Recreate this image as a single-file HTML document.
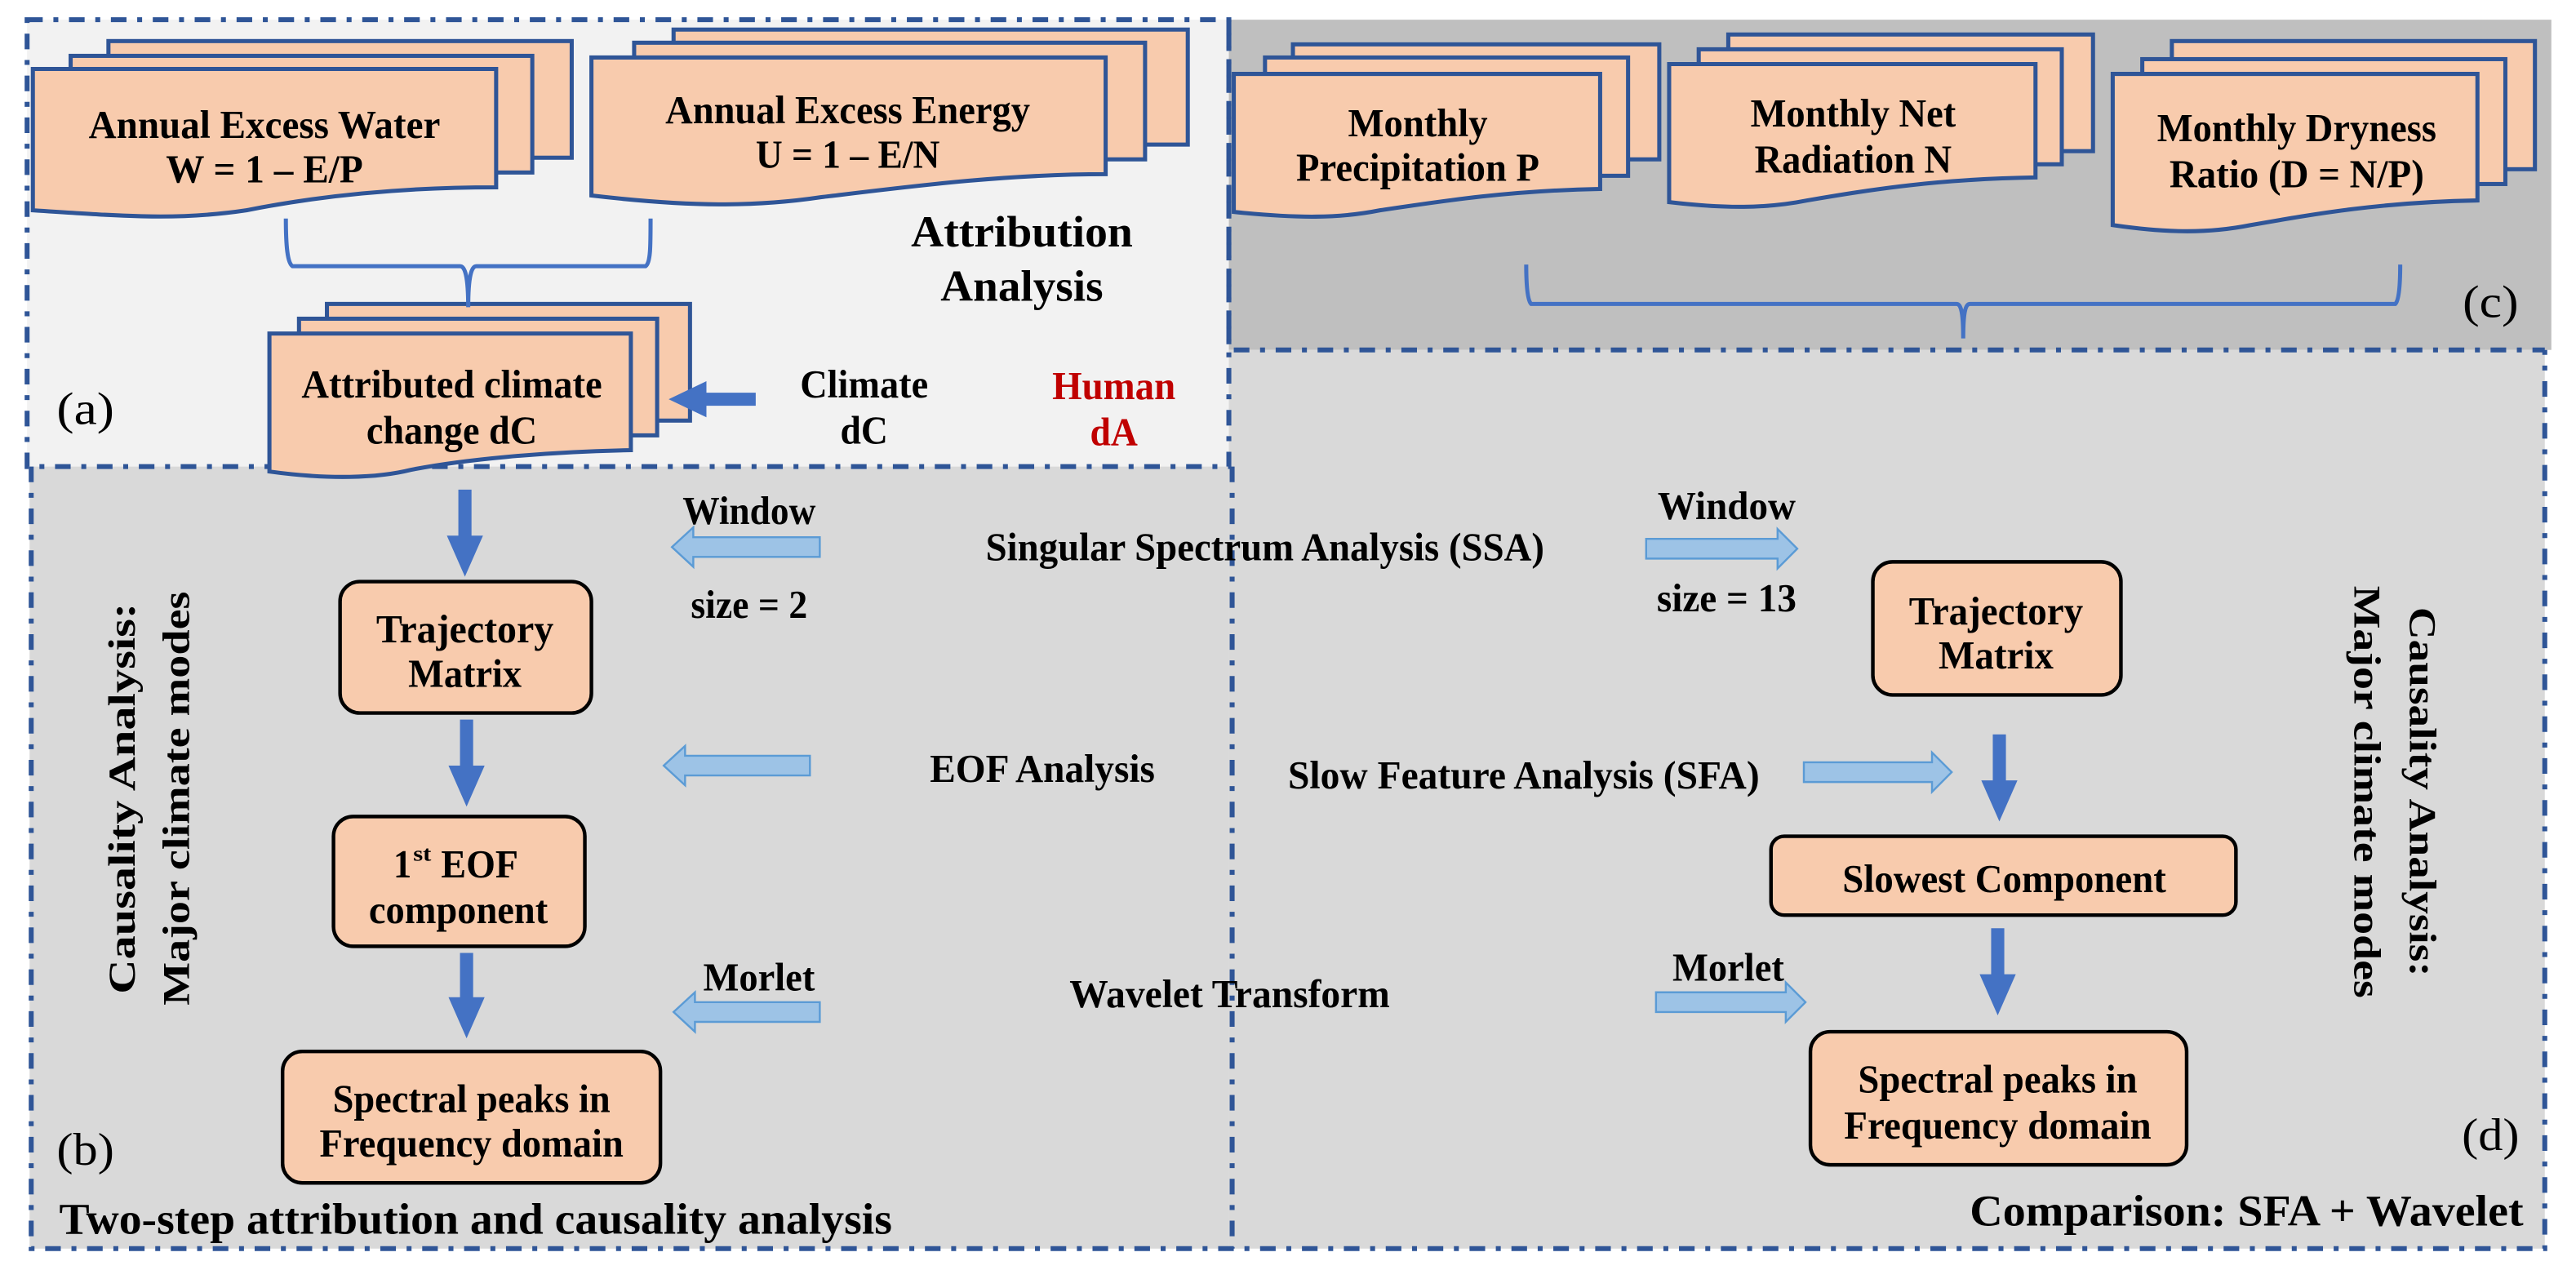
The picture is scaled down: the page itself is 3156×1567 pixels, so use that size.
<!DOCTYPE html>
<html><head><meta charset="utf-8"><style>
html,body{margin:0;padding:0;background:#fff;}
svg{display:block;}
text{font-family:"Liberation Serif","Times New Roman",serif;font-weight:bold;fill:#000;}
</style></head><body>
<svg width="3156" height="1567" viewBox="0 0 1568 778.5" preserveAspectRatio="none" xmlns="http://www.w3.org/2000/svg" font-family="Liberation Serif, serif">
<!-- panels -->
<rect x="16.5" y="12" width="731.5" height="272" fill="#f2f2f2"/>
<rect x="748" y="12" width="805" height="201" fill="#bfbfbf"/>
<rect x="18" y="284" width="730" height="476" fill="#d9d9d9"/>
<rect x="748" y="213" width="801" height="547" fill="#d9d9d9"/>
<g fill="none" stroke="#2f5597" stroke-width="3" stroke-dasharray="9.5 6.5 3 6.5">
<path d="M16.5 12 H748 V284 H16.5 Z"/>
<path d="M748 12 V213 H1549"/>
<path d="M19 284 V760 H1549 V213"/>
<path d="M750 284 V760"/>
</g>

<!-- document shapes -->
<g stroke="#2f5597" stroke-width="2.5" fill="#f8cbad">
<rect x="66" y="25" width="282" height="71"/>
<rect x="43" y="34" width="281" height="71"/>
<path d="M20 42 H302 V114 C250 114 200 118 150 128 C110 134 80 132 20 128 Z"/>
<rect x="410" y="18" width="313" height="70"/>
<rect x="386" y="26" width="311" height="71"/>
<path d="M360 35 H673 V106 C610 106 550 114 500 120 C460 126 420 126 360 119 Z"/>
<rect x="199" y="185" width="221" height="71"/>
<rect x="182" y="194" width="218" height="71"/>
<path d="M164 203 H384 V274 C330 275 280 280 250 286 C230 291 200 292 164 287 Z"/>
<rect x="787" y="27" width="223" height="70"/>
<rect x="770" y="35" width="221" height="72"/>
<path d="M751 45 H974 V115 C920 116 880 122 840 128 C815 133 790 133 751 129 Z"/>
<rect x="1052" y="21" width="222" height="71"/>
<rect x="1034" y="30" width="221" height="70"/>
<path d="M1016 39 H1239 V108 C1180 109 1140 115 1100 122 C1075 127 1050 127 1016 123 Z"/>
<rect x="1322" y="25" width="221" height="78"/>
<rect x="1304" y="36" width="221" height="76"/>
<path d="M1286 45 H1508 V122 C1450 123 1410 130 1370 137 C1345 142 1320 142 1286 137 Z"/>
</g>

<!-- braces -->
<g fill="none" stroke="#4472c4" stroke-width="2.5">
<path d="M174 133 C174 150 175 160 178 162 H280 C283 162 285 168 285 187 C285 168 287 162 290 162 H393 C396 160 396 150 396 133"/>
<path d="M929 161 C929 175 930 183 932 185 H1191 C1194 185 1195 192 1195 206 C1195 192 1196 185 1199 185 H1458 C1460 183 1461 175 1461 161"/>
</g>

<g font-size="24" text-anchor="middle">
<text x="161" y="84" textLength="214" lengthAdjust="spacingAndGlyphs">Annual Excess Water</text>
<text x="161" y="111" textLength="120" lengthAdjust="spacingAndGlyphs">W = 1 – E/P</text>
<text x="516" y="75" textLength="222" lengthAdjust="spacingAndGlyphs">Annual Excess Energy</text>
<text x="516" y="102" textLength="112" lengthAdjust="spacingAndGlyphs">U = 1 – E/N</text>
<text x="275" y="242" textLength="183" lengthAdjust="spacingAndGlyphs">Attributed climate</text>
<text x="275" y="270" textLength="104" lengthAdjust="spacingAndGlyphs">change dC</text>
<text x="863" y="83" textLength="85" lengthAdjust="spacingAndGlyphs">Monthly</text>
<text x="863" y="110" textLength="148" lengthAdjust="spacingAndGlyphs">Precipitation P</text>
<text x="1128" y="77" textLength="125" lengthAdjust="spacingAndGlyphs">Monthly Net</text>
<text x="1128" y="105" textLength="120" lengthAdjust="spacingAndGlyphs">Radiation N</text>
<text x="1398" y="86" textLength="170" lengthAdjust="spacingAndGlyphs">Monthly Dryness</text>
<text x="1398" y="114" textLength="155" lengthAdjust="spacingAndGlyphs">Ratio (D = N/P)</text>

<text x="622" y="150" font-size="27" textLength="135" lengthAdjust="spacingAndGlyphs">Attribution</text>
<text x="622" y="183" font-size="27" textLength="99" lengthAdjust="spacingAndGlyphs">Analysis</text>
<text x="526" y="242" textLength="78" lengthAdjust="spacingAndGlyphs">Climate</text>
<text x="526" y="270" textLength="29" lengthAdjust="spacingAndGlyphs">dC</text>
<text x="678" y="243" textLength="75" lengthAdjust="spacingAndGlyphs" style="fill:#c00000">Human</text>
<text x="678" y="271" textLength="29" lengthAdjust="spacingAndGlyphs" style="fill:#c00000">dA</text>
<text x="52" y="258" font-size="28" textLength="35" lengthAdjust="spacingAndGlyphs" style="font-weight:normal">(a)</text>
<text x="1516" y="193" font-size="28" textLength="34" lengthAdjust="spacingAndGlyphs" style="font-weight:normal">(c)</text>
<text x="52" y="709" font-size="28" textLength="35" lengthAdjust="spacingAndGlyphs" style="font-weight:normal">(b)</text>
<text x="1516" y="700" font-size="28" textLength="35" lengthAdjust="spacingAndGlyphs" style="font-weight:normal">(d)</text>
</g>

<!-- solid blue arrows -->
<g fill="#4472c4">
<path d="M460 239 H430 V232 L407 243 L430 254 V247 H460 Z"/>
<path d="M279 298 H287 V326 H294 L283 351 L272 326 H279 Z"/>
<path d="M280 438 H288 V466 H295 L284 491 L273 466 H280 Z"/>
<path d="M280 580 H288 V607 H295 L284 632 L273 607 H280 Z"/>
<path d="M1213 447 H1221 V475 H1228 L1217 500 L1206 475 H1213 Z"/>
<path d="M1212 565 H1220 V593 H1227 L1216 618 L1205 593 H1212 Z"/>
</g>

<!-- hollow arrows -->
<g fill="#9dc3e6" stroke="#5b9bd5" stroke-width="1.2">
<path d="M499 327 H422 V321 L409 333 L422 345 V339 H499 Z"/>
<path d="M493 460 H417 V454 L404 466 L417 478 V472 H493 Z"/>
<path d="M499 610 H423 V604 L410 616 L423 628 V622 H499 Z"/>
<path d="M1002 328 H1082 V322 L1094 334 L1082 346 V340 H1002 Z"/>
<path d="M1098 464 H1176 V458 L1188 470 L1176 482 V476 H1098 Z"/>
<path d="M1008 604 H1087 V598 L1099 610 L1087 622 V616 H1008 Z"/>
</g>

<!-- boxes -->
<g fill="#f8cbad" stroke="#000" stroke-width="2.2">
<rect x="207" y="354" width="153" height="80" rx="12"/>
<rect x="203" y="497" width="153" height="79" rx="12"/>
<rect x="172" y="640" width="230" height="80" rx="12"/>
<rect x="1140" y="342" width="151" height="81" rx="12"/>
<rect x="1078" y="509" width="283" height="48" rx="8"/>
<rect x="1102" y="628" width="229" height="81" rx="12"/>
</g>
<g font-size="24" text-anchor="middle">
<text x="283" y="391" textLength="108" lengthAdjust="spacingAndGlyphs">Trajectory</text>
<text x="283" y="418" textLength="69" lengthAdjust="spacingAndGlyphs">Matrix</text>
<text x="245" y="534" textLength="11" lengthAdjust="spacingAndGlyphs">1</text>
<text x="257" y="524" font-size="13" textLength="11" lengthAdjust="spacingAndGlyphs">st</text>
<text x="292" y="534" textLength="47" lengthAdjust="spacingAndGlyphs">EOF</text>
<text x="279" y="562" textLength="109" lengthAdjust="spacingAndGlyphs">component</text>
<text x="287" y="677" textLength="169" lengthAdjust="spacingAndGlyphs">Spectral peaks in</text>
<text x="287" y="704" textLength="185" lengthAdjust="spacingAndGlyphs">Frequency domain</text>
<text x="1215" y="380" textLength="106" lengthAdjust="spacingAndGlyphs">Trajectory</text>
<text x="1215" y="407" textLength="70" lengthAdjust="spacingAndGlyphs">Matrix</text>
<text x="1220" y="543" textLength="197" lengthAdjust="spacingAndGlyphs">Slowest Component</text>
<text x="1216" y="665" textLength="170" lengthAdjust="spacingAndGlyphs">Spectral peaks in</text>
<text x="1216" y="693" textLength="187" lengthAdjust="spacingAndGlyphs">Frequency domain</text>
</g>

<!-- middle labels -->
<g font-size="24">
<text x="456" y="319" text-anchor="middle" textLength="81" lengthAdjust="spacingAndGlyphs">Window</text>
<text x="456" y="376" text-anchor="middle" textLength="71" lengthAdjust="spacingAndGlyphs">size = 2</text>
<text x="600" y="341" textLength="340" lengthAdjust="spacingAndGlyphs">Singular Spectrum Analysis (SSA)</text>
<text x="566" y="476" textLength="137" lengthAdjust="spacingAndGlyphs">EOF Analysis</text>
<text x="462" y="603" text-anchor="middle" textLength="68" lengthAdjust="spacingAndGlyphs">Morlet</text>
<text x="651" y="613" textLength="195" lengthAdjust="spacingAndGlyphs">Wavelet Transform</text>
<text x="1051" y="316" text-anchor="middle" textLength="84" lengthAdjust="spacingAndGlyphs">Window</text>
<text x="1051" y="372" text-anchor="middle" textLength="85" lengthAdjust="spacingAndGlyphs">size = 13</text>
<text x="784" y="480" textLength="287" lengthAdjust="spacingAndGlyphs">Slow Feature Analysis (SFA)</text>
<text x="1052" y="597" text-anchor="middle" textLength="68" lengthAdjust="spacingAndGlyphs">Morlet</text>
</g>
<text x="36" y="751" font-size="27" textLength="507" lengthAdjust="spacingAndGlyphs">Two-step attribution and causality analysis</text>
<text x="1199" y="746" font-size="27" textLength="337" lengthAdjust="spacingAndGlyphs">Comparison: SFA + Wavelet</text>

<!-- vertical labels -->
<text transform="translate(82,486) rotate(-90)" font-size="23" text-anchor="middle" textLength="238" lengthAdjust="spacingAndGlyphs">Causality Analysis:</text>
<text transform="translate(115,486) rotate(-90)" font-size="23" text-anchor="middle" textLength="252" lengthAdjust="spacingAndGlyphs">Major climate modes</text>
<text transform="translate(1467,482) rotate(90)" font-size="23" text-anchor="middle" textLength="225" lengthAdjust="spacingAndGlyphs">Causality Analysis:</text>
<text transform="translate(1433,482) rotate(90)" font-size="23" text-anchor="middle" textLength="251" lengthAdjust="spacingAndGlyphs">Major climate modes</text>
</svg>
</body></html>
